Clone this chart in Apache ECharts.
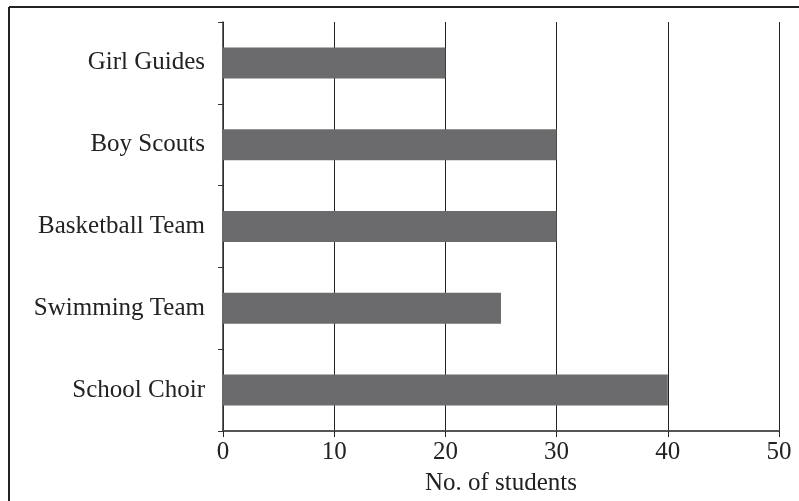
<!DOCTYPE html>
<html>
<head>
<meta charset="utf-8">
<script src="https://cdn.jsdelivr.net/npm/echarts@6/dist/echarts.min.js"></script>
<style>
html,body{margin:0;padding:0;background:#fff;}
#c{width:799px;height:501px;}
</style>
</head>
<body>
<div id="c"></div>
<script>
const categories = ['School Choir', 'Swimming Team', 'Basketball Team', 'Boy Scouts', 'Girl Guides'];
const values = [40, 25, 30, 30, 20];
const xTicks = [0, 10, 20, 30, 40, 50];

const chart = echarts.init(document.getElementById('c'), null, {renderer: 'canvas'});
const serif = '"Liberation Serif", "DejaVu Serif", serif';
chart.setOption({
  animation: false,
  backgroundColor: '#ffffff',
  grid: {left: 223, right: 20, top: 22, bottom: 70, containLabel: false},
  xAxis: {
    type: 'value',
    min: xTicks[0],
    max: xTicks[xTicks.length - 1],
    interval: 10,
    name: 'No. of students',
    nameLocation: 'middle',
    nameGap: 40,
    nameTextStyle: {fontFamily: serif, fontSize: 25, color: '#222'},
    axisLine: {show: true, lineStyle: {color: '#555', width: 2}},
    axisTick: {show: true, length: 6, lineStyle: {color: '#222', width: 1}},
    axisLabel: {fontFamily: serif, fontSize: 25, color: '#222', margin: 9},
    splitLine: {show: true, lineStyle: {color: '#222', width: 1}}
  },
  yAxis: {
    type: 'category',
    data: categories,
    axisLine: {show: true, lineStyle: {color: '#333', width: 1.5}},
    axisTick: {show: true, length: 5, lineStyle: {color: '#333', width: 1}},
    axisLabel: {fontFamily: serif, fontSize: 25, color: '#222', margin: 18},
    splitLine: {show: false}
  },
  series: [{
    type: 'bar',
    data: values,
    barWidth: 31,
    itemStyle: {color: '#6b6b6d'}
  }],
  graphic: [
    {type: 'line', shape: {x1: 9, y1: 7, x2: 799, y2: 7}, style: {stroke: '#222', lineWidth: 2}},
    {type: 'line', shape: {x1: 9, y1: 7, x2: 9, y2: 501}, style: {stroke: '#222', lineWidth: 2}}
  ]
});
</script>
</body>
</html>
